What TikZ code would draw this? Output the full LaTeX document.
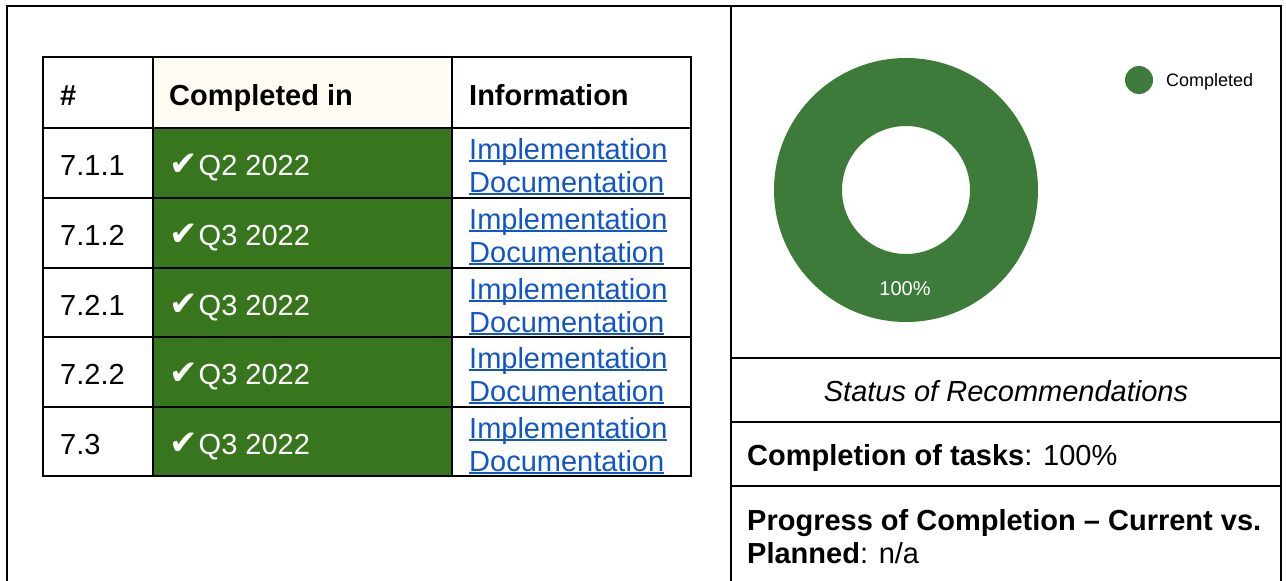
\documentclass[tikz,border=0pt]{standalone}
\usepackage{fontspec}
\setmainfont{Liberation Sans}
\newfontfamily\dejavu{DejaVu Sans}
\definecolor{cellgreen}{RGB}{56,118,29}
\definecolor{donutgreen}{RGB}{61,123,58}
\definecolor{cream}{RGB}{255,252,243}
\definecolor{linkblue}{RGB}{17,85,204}
\newcommand\ulink[1]{\setbox0=\hbox{#1}\rlap{\rule[-2.6pt]{\wd0}{1.8pt}}\box0}
\newcommand\chk{{\dejavu\fontsize{34}{34}\selectfont\char"2714}\kern1pt}
\begin{document}
\begin{tikzpicture}[x=1pt,y=-1pt,
  txt/.style={inner sep=0pt, anchor=base west, font=\fontsize{29}{34}\selectfont},
  ctxt/.style={inner sep=0pt, anchor=base, font=\fontsize{29}{34}\selectfont},
  link/.style={txt, text=linkblue},
  grid/.style={line width=2.4pt, line cap=rect},
  frame/.style={line width=2pt}]
\useasboundingbox (0,0) rectangle (1286,581);
% outer frame
\draw[frame] (7,590) -- (7,6) -- (1281,6) -- (1281,590);
\draw[frame] (731,6) -- (731,590);
\draw[frame] (731,358) -- (1281,358);
\draw[frame] (731,422) -- (1281,422);
\draw[frame] (731,486) -- (1281,486);
% table fills
\fill[cream] (153,57) rectangle (452,128);
\fill[cellgreen] (153,128) rectangle (452,476);
% table grid
\foreach \yy in {57,128,198,268,337,407,476}
  \draw[grid] (43,\yy) -- (691,\yy);
\foreach \xx in {43,153,452,691}
  \draw[grid] (\xx,57) -- (\xx,476);
% header
\node[txt] (hnum) at (60,105) {\bfseries \#};
\node[txt] (hcomp) at (169,105) {\bfseries Completed in};
\node[txt] (hinfo) at (469,105) {\bfseries Information};
% rows
\foreach \top/\id/\q [count=\i] in {128/7.1.1/Q2, 198/7.1.2/Q3, 268/7.2.1/Q3, 337/7.2.2/Q3, 407/7.3/Q3}{
  \node[txt] (num\i) at (60,\top+47) {\id};
  \node[txt, text=white] (when\i) at (169,\top+47) {\chk\q\ 2022};
  \node[link] (impl\i) at (469,\top+31) {\ulink{Implementation}};
  \node[link] (doc\i) at (469,\top+64) {\ulink{Documentation}};
}
% donut chart
\fill[donutgreen, even odd rule] (906,190) circle[radius=132pt] (906,190) circle[radius=64pt];
\node[inner sep=0pt, anchor=base, text=white, font=\fontsize{20}{24}\selectfont] (pct) at (905,295) {100\%};
\fill[donutgreen] (1139,80) circle[radius=14pt];
\node[inner sep=0pt, anchor=base west, font=\fontsize{18}{22}\selectfont] (legend) at (1166,86) {Completed};
% right panel texts
\node[ctxt] (status) at (1006,401) {\itshape Status of Recommendations};
\node[txt] (compl) at (747,465) {\textbf{Completion of tasks}: 100\%};
\node[txt] (prog1) at (747,530) {\textbf{Progress of Completion – Current vs.}};
\node[txt] (prog2) at (747,563) {\textbf{Planned}: n/a};
\end{tikzpicture}
\end{document}
